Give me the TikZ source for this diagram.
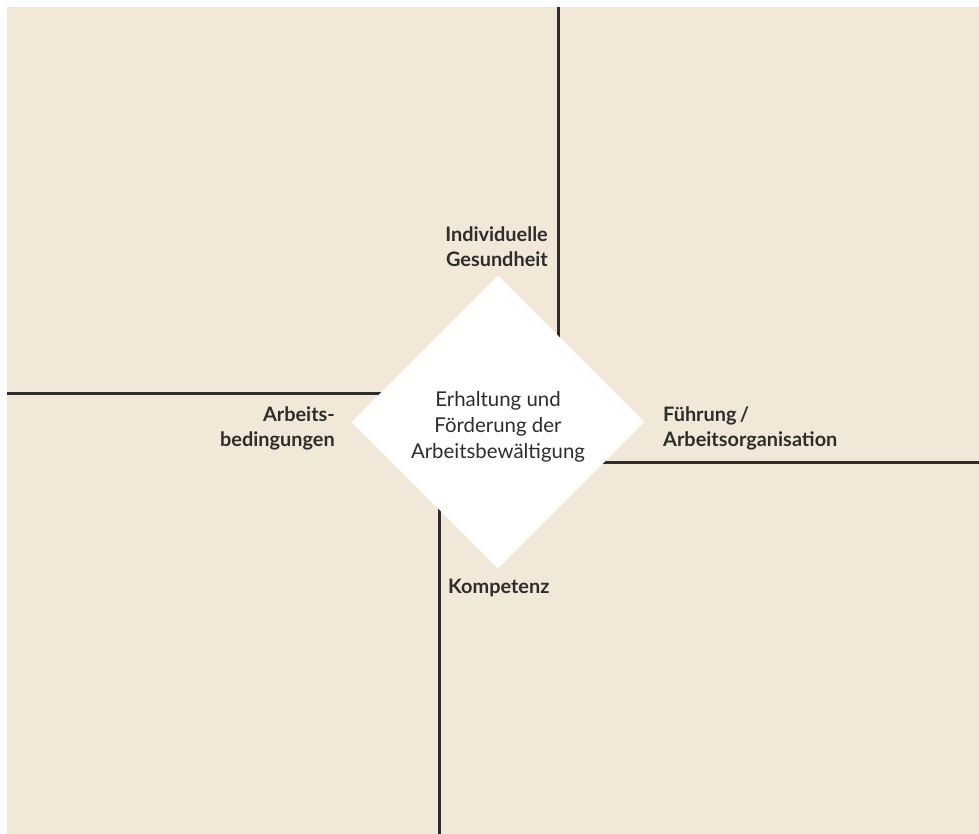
\documentclass[tikz,border=0pt]{standalone}
\usepackage{fontspec}
\setmainfont{Lato}
\usetikzlibrary{shapes.geometric}
\definecolor{beige}{RGB}{241,232,216}
\definecolor{ink}{RGB}{45,45,45}
\begin{document}
\begin{tikzpicture}[x=1pt,y=-1pt,
  axisline/.style={draw=ink,line width=3pt},
  lbl/.style={inner sep=0pt,text=ink,font=\fontsize{19.9}{24.5}\selectfont\bfseries},
  ctext/.style={inner sep=0pt,text=ink,align=center,font=\fontsize{20.4}{26}\selectfont},
  dia/.style={diamond,fill=white,inner sep=0pt,minimum width=293pt,minimum height=293pt}]
\useasboundingbox (0,0) rectangle (979,834);
\fill[beige] (7,7) rectangle (979,834);
\coordinate (c) at (498,422);
\coordinate (topend) at (558,7);
\coordinate (leftend) at (7,393);
\coordinate (rightend) at (979,462);
\coordinate (botend) at (439,834);
\draw[axisline] (topend) -- (topend |- c);
\draw[axisline] (leftend) -- (leftend -| c);
\draw[axisline] (rightend) -- (rightend -| c);
\draw[axisline] (botend) -- (botend |- c);
\node[dia] (d) at (c) {};
\node[ctext] (dt) at (498,427) {Erhaltung und\\Förderung der\\Arbeitsbewältigung};
\node[lbl,anchor=north east,align=right] (ig) at (548,227) {Individuelle\\Gesundheit};
\node[lbl,anchor=north east,align=right] (ab) at (335,407) {Arbeits-\\bedingungen};
\node[lbl,anchor=north west,align=left] (fa) at (663,407) {Führung\,/\\Arbeitsorganisation};
\node[lbl,anchor=north west] (ko) at (448,579) {Kompetenz};
\end{tikzpicture}
\end{document}
